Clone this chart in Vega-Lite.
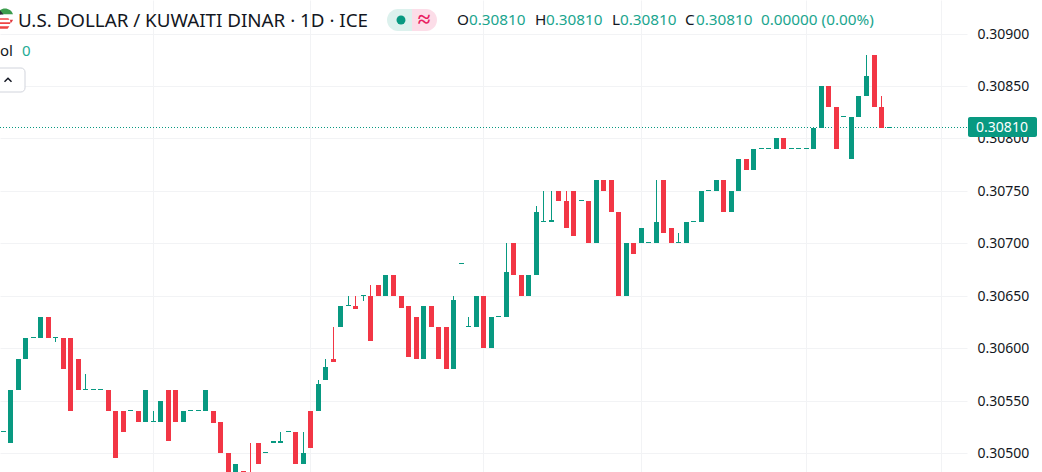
{"$schema":"https://vega.github.io/schema/vega-lite/v6.json","width":967,"height":472,"padding":{"left":0,"top":0,"right":75,"bottom":0},"autosize":"none","background":"#ffffff","config":{"view":{"stroke":null},"axis":{"grid":true,"gridColor":"#f2f3f5","gridWidth":1,"domain":false,"ticks":false,"title":null},"text":{"font":"Noto Sans"}},
"datasets":{"candles":[
{"i":-1,"o":0.3052,"h":0.30521,"l":0.3052,"c":0.30521,"d":"up"},
{"i":0,"o":0.3051,"h":0.3056,"l":0.3051,"c":0.3056,"d":"up"},
{"i":1,"o":0.3056,"h":0.3059,"l":0.3056,"c":0.3059,"d":"up"},
{"i":2,"o":0.3059,"h":0.3061,"l":0.3059,"c":0.3061,"d":"up"},
{"i":3,"o":0.3061,"h":0.30611,"l":0.3061,"c":0.30611,"d":"up"},
{"i":4,"o":0.3061,"h":0.3063,"l":0.3061,"c":0.3063,"d":"up"},
{"i":5,"o":0.3063,"h":0.3063,"l":0.3061,"c":0.3061,"d":"down"},
{"i":6,"o":0.3061,"h":0.30611,"l":0.30606,"c":0.30611,"d":"up"},
{"i":7,"o":0.3061,"h":0.3061,"l":0.3058,"c":0.3058,"d":"down"},
{"i":8,"o":0.3061,"h":0.3061,"l":0.3054,"c":0.3054,"d":"down"},
{"i":9,"o":0.3059,"h":0.3059,"l":0.3056,"c":0.3056,"d":"down"},
{"i":10,"o":0.3056,"h":0.30575,"l":0.3056,"c":0.30561,"d":"up"},
{"i":11,"o":0.3056,"h":0.30561,"l":0.3056,"c":0.30561,"d":"up"},
{"i":12,"o":0.3056,"h":0.30561,"l":0.3056,"c":0.30561,"d":"up"},
{"i":13,"o":0.3056,"h":0.3056,"l":0.3054,"c":0.3054,"d":"down"},
{"i":14,"o":0.3054,"h":0.3054,"l":0.30495,"c":0.30495,"d":"down"},
{"i":15,"o":0.3054,"h":0.3054,"l":0.3052,"c":0.3052,"d":"down"},
{"i":16,"o":0.3054,"h":0.30541,"l":0.3054,"c":0.30541,"d":"up"},
{"i":17,"o":0.3054,"h":0.3054,"l":0.3053,"c":0.3053,"d":"down"},
{"i":18,"o":0.3053,"h":0.3056,"l":0.3053,"c":0.3056,"d":"up"},
{"i":19,"o":0.3053,"h":0.3054,"l":0.3053,"c":0.30531,"d":"up"},
{"i":20,"o":0.3053,"h":0.3055,"l":0.3053,"c":0.3055,"d":"up"},
{"i":21,"o":0.3056,"h":0.3056,"l":0.30511,"c":0.30511,"d":"down"},
{"i":22,"o":0.3056,"h":0.3056,"l":0.3053,"c":0.3053,"d":"down"},
{"i":23,"o":0.3053,"h":0.3054,"l":0.3053,"c":0.3054,"d":"up"},
{"i":24,"o":0.3054,"h":0.30541,"l":0.3054,"c":0.30541,"d":"up"},
{"i":25,"o":0.3054,"h":0.30541,"l":0.3054,"c":0.30541,"d":"up"},
{"i":26,"o":0.3054,"h":0.3056,"l":0.3054,"c":0.3056,"d":"up"},
{"i":27,"o":0.3054,"h":0.3054,"l":0.30529,"c":0.30529,"d":"down"},
{"i":28,"o":0.3053,"h":0.3053,"l":0.305,"c":0.305,"d":"down"},
{"i":29,"o":0.305,"h":0.305,"l":0.3048,"c":0.3048,"d":"down"},
{"i":30,"o":0.3047,"h":0.3049,"l":0.3047,"c":0.3049,"d":"up"},
{"i":31,"o":0.30483,"h":0.30483,"l":0.30475,"c":0.30475,"d":"down"},
{"i":32,"o":0.30476,"h":0.3051,"l":0.30473,"c":0.30473,"d":"down"},
{"i":33,"o":0.3051,"h":0.3051,"l":0.3049,"c":0.3049,"d":"down"},
{"i":34,"o":0.305,"h":0.30501,"l":0.305,"c":0.30501,"d":"up"},
{"i":35,"o":0.3051,"h":0.30511,"l":0.3051,"c":0.30511,"d":"up"},
{"i":36,"o":0.3051,"h":0.3052,"l":0.3051,"c":0.30511,"d":"up"},
{"i":37,"o":0.3052,"h":0.30521,"l":0.3052,"c":0.30521,"d":"up"},
{"i":38,"o":0.3052,"h":0.3052,"l":0.3049,"c":0.3049,"d":"down"},
{"i":39,"o":0.3049,"h":0.3052,"l":0.3049,"c":0.305,"d":"up"},
{"i":40,"o":0.3054,"h":0.3054,"l":0.30505,"c":0.30505,"d":"down"},
{"i":41,"o":0.3054,"h":0.3057,"l":0.3054,"c":0.30566,"d":"up"},
{"i":42,"o":0.3057,"h":0.3059,"l":0.3057,"c":0.30582,"d":"up"},
{"i":43,"o":0.3059,"h":0.3062,"l":0.30587,"c":0.30587,"d":"down"},
{"i":44,"o":0.3062,"h":0.3064,"l":0.3062,"c":0.3064,"d":"up"},
{"i":45,"o":0.3064,"h":0.3065,"l":0.3064,"c":0.30641,"d":"up"},
{"i":46,"o":0.3064,"h":0.3065,"l":0.30637,"c":0.30637,"d":"down"},
{"i":47,"o":0.3065,"h":0.30651,"l":0.30645,"c":0.30651,"d":"up"},
{"i":48,"o":0.3065,"h":0.3066,"l":0.30607,"c":0.30607,"d":"down"},
{"i":49,"o":0.3066,"h":0.3066,"l":0.3065,"c":0.3065,"d":"down"},
{"i":50,"o":0.3065,"h":0.3067,"l":0.3065,"c":0.3067,"d":"up"},
{"i":51,"o":0.3067,"h":0.3067,"l":0.3065,"c":0.3065,"d":"down"},
{"i":52,"o":0.3065,"h":0.3065,"l":0.30638,"c":0.30638,"d":"down"},
{"i":53,"o":0.3064,"h":0.3064,"l":0.30592,"c":0.30592,"d":"down"},
{"i":54,"o":0.3063,"h":0.3063,"l":0.3059,"c":0.3059,"d":"down"},
{"i":55,"o":0.3059,"h":0.3064,"l":0.3059,"c":0.3064,"d":"up"},
{"i":56,"o":0.3064,"h":0.3064,"l":0.3062,"c":0.3062,"d":"down"},
{"i":57,"o":0.3062,"h":0.3062,"l":0.3059,"c":0.3059,"d":"down"},
{"i":58,"o":0.3062,"h":0.3062,"l":0.3058,"c":0.3058,"d":"down"},
{"i":59,"o":0.3058,"h":0.3065,"l":0.3058,"c":0.30646,"d":"up"},
{"i":60,"o":0.3068,"h":0.30681,"l":0.3068,"c":0.30681,"d":"up"},
{"i":61,"o":0.3062,"h":0.3063,"l":0.3062,"c":0.30621,"d":"up"},
{"i":62,"o":0.3062,"h":0.3065,"l":0.3062,"c":0.3065,"d":"up"},
{"i":63,"o":0.3065,"h":0.3065,"l":0.306,"c":0.306,"d":"down"},
{"i":64,"o":0.306,"h":0.3063,"l":0.306,"c":0.3063,"d":"up"},
{"i":65,"o":0.3063,"h":0.30631,"l":0.3063,"c":0.30631,"d":"up"},
{"i":66,"o":0.3063,"h":0.307,"l":0.3063,"c":0.30673,"d":"up"},
{"i":67,"o":0.307,"h":0.307,"l":0.3067,"c":0.3067,"d":"down"},
{"i":68,"o":0.3067,"h":0.3067,"l":0.3065,"c":0.3065,"d":"down"},
{"i":69,"o":0.3065,"h":0.3067,"l":0.3065,"c":0.3067,"d":"up"},
{"i":70,"o":0.3067,"h":0.30736,"l":0.3067,"c":0.3073,"d":"up"},
{"i":71,"o":0.3072,"h":0.3075,"l":0.3072,"c":0.30721,"d":"up"},
{"i":72,"o":0.3072,"h":0.3075,"l":0.3072,"c":0.30722,"d":"up"},
{"i":73,"o":0.3075,"h":0.3075,"l":0.3074,"c":0.3074,"d":"down"},
{"i":74,"o":0.3074,"h":0.3075,"l":0.30715,"c":0.30715,"d":"down"},
{"i":75,"o":0.3075,"h":0.3075,"l":0.30707,"c":0.30707,"d":"down"},
{"i":76,"o":0.3074,"h":0.30741,"l":0.3074,"c":0.30741,"d":"up"},
{"i":77,"o":0.3074,"h":0.3074,"l":0.307,"c":0.307,"d":"down"},
{"i":78,"o":0.307,"h":0.3076,"l":0.307,"c":0.3076,"d":"up"},
{"i":79,"o":0.3076,"h":0.3076,"l":0.3075,"c":0.3075,"d":"down"},
{"i":80,"o":0.3076,"h":0.3076,"l":0.3073,"c":0.3073,"d":"down"},
{"i":81,"o":0.3073,"h":0.3073,"l":0.3065,"c":0.3065,"d":"down"},
{"i":82,"o":0.3065,"h":0.307,"l":0.3065,"c":0.307,"d":"up"},
{"i":83,"o":0.307,"h":0.307,"l":0.3069,"c":0.3069,"d":"down"},
{"i":84,"o":0.307,"h":0.30715,"l":0.307,"c":0.30715,"d":"up"},
{"i":85,"o":0.307,"h":0.30701,"l":0.307,"c":0.30701,"d":"up"},
{"i":86,"o":0.307,"h":0.3076,"l":0.307,"c":0.3072,"d":"up"},
{"i":87,"o":0.3076,"h":0.3076,"l":0.3071,"c":0.3071,"d":"down"},
{"i":88,"o":0.30715,"h":0.30715,"l":0.307,"c":0.307,"d":"down"},
{"i":89,"o":0.307,"h":0.3071,"l":0.307,"c":0.30701,"d":"up"},
{"i":90,"o":0.307,"h":0.3072,"l":0.307,"c":0.3072,"d":"up"},
{"i":91,"o":0.3072,"h":0.30721,"l":0.3072,"c":0.30721,"d":"up"},
{"i":92,"o":0.3072,"h":0.3075,"l":0.3072,"c":0.3075,"d":"up"},
{"i":93,"o":0.3075,"h":0.30751,"l":0.3075,"c":0.30751,"d":"up"},
{"i":94,"o":0.3075,"h":0.3076,"l":0.3075,"c":0.3076,"d":"up"},
{"i":95,"o":0.3076,"h":0.3076,"l":0.3073,"c":0.3073,"d":"down"},
{"i":96,"o":0.3073,"h":0.3075,"l":0.3073,"c":0.3075,"d":"up"},
{"i":97,"o":0.3075,"h":0.3078,"l":0.3075,"c":0.3078,"d":"up"},
{"i":98,"o":0.3078,"h":0.3078,"l":0.3077,"c":0.3077,"d":"down"},
{"i":99,"o":0.3077,"h":0.3079,"l":0.3077,"c":0.3079,"d":"up"},
{"i":100,"o":0.3079,"h":0.30791,"l":0.3079,"c":0.30791,"d":"up"},
{"i":101,"o":0.3079,"h":0.30791,"l":0.3079,"c":0.30791,"d":"up"},
{"i":102,"o":0.3079,"h":0.308,"l":0.3079,"c":0.308,"d":"up"},
{"i":103,"o":0.308,"h":0.308,"l":0.3079,"c":0.3079,"d":"down"},
{"i":104,"o":0.3079,"h":0.30791,"l":0.3079,"c":0.30791,"d":"up"},
{"i":105,"o":0.3079,"h":0.30791,"l":0.3079,"c":0.30791,"d":"up"},
{"i":106,"o":0.3079,"h":0.30791,"l":0.3079,"c":0.30791,"d":"up"},
{"i":107,"o":0.3079,"h":0.3081,"l":0.3079,"c":0.3081,"d":"up"},
{"i":108,"o":0.3081,"h":0.3085,"l":0.3081,"c":0.3085,"d":"up"},
{"i":109,"o":0.3085,"h":0.3085,"l":0.3083,"c":0.3083,"d":"down"},
{"i":110,"o":0.3083,"h":0.3083,"l":0.3079,"c":0.3079,"d":"down"},
{"i":111,"o":0.3082,"h":0.30821,"l":0.3082,"c":0.30821,"d":"up"},
{"i":112,"o":0.3078,"h":0.3082,"l":0.3078,"c":0.3082,"d":"up"},
{"i":113,"o":0.3082,"h":0.3084,"l":0.3082,"c":0.3084,"d":"up"},
{"i":114,"o":0.3084,"h":0.3088,"l":0.3084,"c":0.3086,"d":"up"},
{"i":115,"o":0.3088,"h":0.3088,"l":0.3083,"c":0.3083,"d":"down"},
{"i":116,"o":0.3083,"h":0.3084,"l":0.3081,"c":0.3081,"d":"down"},
{"i":117,"o":0.3081,"h":0.30811,"l":0.3081,"c":0.30811,"d":"up"}
]},
"layer":[
{"data":{"name":"candles"},"mark":{"type":"rule","strokeWidth":1,"xOffset":0.5,"clip":true},"encoding":{"x":{"field":"i","type":"quantitative","scale":{"domain":[-1.3452,127.452],"range":[0,967],"round":true,"nice":false,"zero":false,"padding":0},"axis":{"values":[19,40,63,84,106,124],"labels":false,"orient":"bottom"}},"y":{"field":"h","type":"quantitative","scale":{"domain":[0.304819,0.30932],"nice":false,"zero":false,"round":true},"axis":{"orient":"right","values":[0.305,0.3055,0.306,0.3065,0.307,0.3075,0.308,0.3085,0.309],"format":".5f","labelColor":"#131722","labelFont":"Noto Sans","labelFontSize":14,"labelPadding":10}},"y2":{"field":"l"},"color":{"field":"d","type":"nominal","scale":{"domain":["up","down"],"range":["#089981","#f23645"]},"legend":null}}},
{"data":{"values":[{"price":0.3081}]},"mark":{"type":"rule","color":"#089981","strokeDash":[1,2],"strokeWidth":1,"yOffset":-0.5},"encoding":{"y":{"field":"price","type":"quantitative"}}},
{"data":{"name":"candles"},"mark":{"type":"bar","size":5,"xOffset":0.5,"clip":true},"encoding":{"x":{"field":"i","type":"quantitative"},"y":{"field":"o","type":"quantitative"},"y2":{"field":"c"},"color":{"field":"d","type":"nominal","legend":null}}},
{"data":{"values":[{"v":1}]},"mark":{"type":"rect","fill":"#089981","cornerRadius":2},"encoding":{"x":{"datum":127.585,"type":"quantitative"},"x2":{"datum":136.776},"y":{"datum":0.3082,"type":"quantitative"},"y2":{"datum":0.308009}}},
{"data":{"values":[{"t":"0.30810"}]},"mark":{"type":"text","color":"#ffffff","fontSize":14,"align":"center","baseline":"middle"},"encoding":{"text":{"field":"t"},"x":{"datum":132.18,"type":"quantitative"},"y":{"datum":0.308099,"type":"quantitative"}}},
{"data":{"values":[{"v":1}]},"mark":{"type":"rect","fill":"#dcf1ed","cornerRadiusTopLeft":11,"cornerRadiusBottomLeft":11},"encoding":{"x":{"datum":50.2,"type":"quantitative"},"x2":{"datum":53.53},"y":{"datum":0.309234,"type":"quantitative"},"y2":{"datum":0.309024}}},
{"data":{"values":[{"v":1}]},"mark":{"type":"rect","fill":"#fcdde8","cornerRadiusTopRight":11,"cornerRadiusBottomRight":11},"encoding":{"x":{"datum":53.53,"type":"quantitative"},"x2":{"datum":56.861},"y":{"datum":0.309234,"type":"quantitative"},"y2":{"datum":0.309024}}},
{"data":{"values":[{"v":1}]},"mark":{"type":"point","filled":true,"fill":"#089981","opacity":1,"size":80},"encoding":{"x":{"datum":52.065,"type":"quantitative"},"y":{"datum":0.309129,"type":"quantitative"}}},
{"data":{"values":[{"t":"≈"}]},"mark":{"type":"text","color":"#e91e63","fontSize":23,"fontWeight":"bold","align":"center","baseline":"middle"},"encoding":{"text":{"field":"t"},"x":{"datum":55.128,"type":"quantitative"},"y":{"datum":0.309129,"type":"quantitative"}}},
{"data":{"values":[{"t":"U.S. DOLLAR / KUWAITI DINAR · 1D · ICE"}]},"mark":{"type":"text","color":"#131722","fontSize":18.8,"align":"left","baseline":"alphabetic"},"encoding":{"text":{"field":"t"},"x":{"datum":1.052,"type":"quantitative"},"y":{"datum":0.309063,"type":"quantitative"}}},
{"data":{"values":[{"t":"O","p":59.523},{"t":"H","p":69.912},{"t":"L","p":80.168},{"t":"C","p":89.891}]},"mark":{"type":"text","color":"#131722","fontSize":15.3,"align":"left","baseline":"alphabetic"},"encoding":{"text":{"field":"t"},"x":{"field":"p","type":"quantitative"},"y":{"datum":0.309082,"type":"quantitative"}}},
{"data":{"values":[{"t":"0.30810","p":61.121},{"t":"0.30810","p":71.444},{"t":"0.30810","p":81.3},{"t":"0.30810","p":91.356},{"t":"0.00000 (0.00%)","p":100.08}]},"mark":{"type":"text","color":"#1aa58e","fontSize":15.3,"align":"left","baseline":"alphabetic"},"encoding":{"text":{"field":"t"},"x":{"field":"p","type":"quantitative"},"y":{"datum":0.309082,"type":"quantitative"}}},
{"data":{"values":[{"t":"ol"}]},"mark":{"type":"text","color":"#131722","fontSize":15,"align":"left","baseline":"alphabetic"},"encoding":{"text":{"field":"t"},"x":{"datum":-1.345,"type":"quantitative"},"y":{"datum":0.308786,"type":"quantitative"}}},
{"data":{"values":[{"t":"0"}]},"mark":{"type":"text","color":"#22ab94","fontSize":15,"align":"left","baseline":"alphabetic"},"encoding":{"text":{"field":"t"},"x":{"datum":1.585,"type":"quantitative"},"y":{"datum":0.308786,"type":"quantitative"}}},
{"data":{"values":[{"v":1}]},"mark":{"type":"rect","fill":"#ffffff","stroke":"#d1d4dc","strokeWidth":1,"cornerRadius":4},"encoding":{"x":{"datum":-2.011,"type":"quantitative"},"x2":{"datum":2.051},"y":{"datum":0.308667,"type":"quantitative"},"y2":{"datum":0.308438}}},
{"data":{"values":[{"v":1}]},"mark":{"type":"point","shape":"M-1,0.5 L0,-0.5 L1,0.5","filled":false,"fill":null,"stroke":"#131722","strokeWidth":1.5,"opacity":1,"size":49},"encoding":{"x":{"datum":-0.346,"type":"quantitative"},"y":{"datum":0.308557,"type":"quantitative"}}},
{"data":{"values":[{"v":1}]},"mark":{"type":"point","shape":"circle","filled":true,"fill":"#ffffff","opacity":1,"size":227},"encoding":{"x":{"datum":-0.679,"type":"quantitative"},"y":{"datum":0.309158,"type":"quantitative"}}},
{"data":{"values":[{"v":1}]},"mark":{"type":"point","shape":"M-0.94,-0.33 A1,1 0 0 1 0.94,-0.33 Z","filled":true,"fill":"#3c9d4e","opacity":1,"size":289},"encoding":{"x":{"datum":-0.679,"type":"quantitative"},"y":{"datum":0.309158,"type":"quantitative"}}},
{"data":{"values":[{"v":1}]},"mark":{"type":"point","shape":"M-0.94,0.33 A1,1 0 0 0 0.94,0.33 Z","filled":true,"fill":"#e0383e","opacity":1,"size":289},"encoding":{"x":{"datum":-0.679,"type":"quantitative"},"y":{"datum":0.309158,"type":"quantitative"}}},
{"data":{"values":[{"v":1}]},"mark":{"type":"point","shape":"M-1,-0.3 L-0.94,-0.33 A1,1 0 0 1 -0.6,-0.8 L-0.2,-0.33 L-0.2,0.33 L-0.94,0.33 Z","filled":true,"fill":"#2a2e39","opacity":1,"size":289},"encoding":{"x":{"datum":-0.679,"type":"quantitative"},"y":{"datum":0.309158,"type":"quantitative"}}},
{"data":{"values":[{"v":1}]},"mark":{"type":"point","shape":"circle","filled":true,"fill":"#ffffff","opacity":1,"size":290},"encoding":{"x":{"datum":-1.079,"type":"quantitative"},"y":{"datum":0.309101,"type":"quantitative"}}},
{"data":{"values":[{"v":1}]},"mark":{"type":"point","shape":"M-0.8,-0.6 L0.8,-0.6 L0.92,-0.4 L-0.92,-0.4 Z M-1,-0.1 L1,-0.1 L1,0.12 L-1,0.12 Z M-0.92,0.4 L0.92,0.4 L0.7,0.72 L-0.7,0.72 Z","filled":true,"fill":"#ef4444","opacity":1,"size":256},"encoding":{"x":{"datum":-1.079,"type":"quantitative"},"y":{"datum":0.309101,"type":"quantitative"}}}
]}
